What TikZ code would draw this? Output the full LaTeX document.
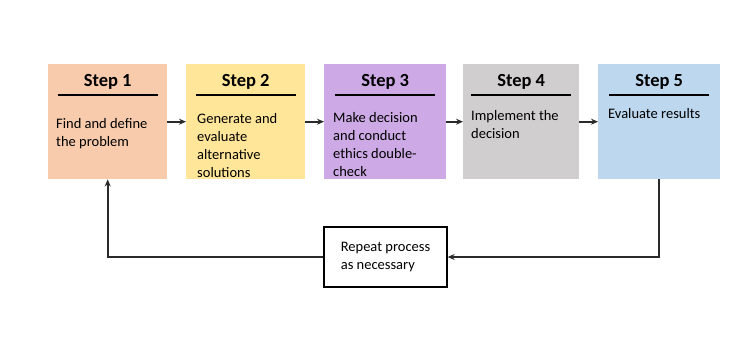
\documentclass[tikz,border=0pt]{standalone}
\usepackage{fontspec}
\setmainfont{Carlito}
\usetikzlibrary{arrows.meta}
\definecolor{peach}{HTML}{F8CBAD}
\definecolor{gold}{HTML}{FFE699}
\definecolor{lilac}{HTML}{CDAAE6}
\definecolor{stone}{HTML}{D0CECE}
\definecolor{sky}{HTML}{BDD7EE}
\definecolor{wire}{HTML}{2A2A2A}
\newcommand{\HeadFont}{\fontsize{18.5}{22}\selectfont\bfseries}
\newcommand{\BodyFont}{\fontsize{14.5}{18}\selectfont}

\begin{document}
\begin{tikzpicture}[x=1pt,y=-1pt,
    stepbox/.style={minimum height=115pt,inner sep=0pt,anchor=north west},
    link/.style={-{Stealth[length=7pt,width=6pt]},line width=1.7pt,wire}]
  \useasboundingbox (0,0) rectangle (752,346);
  % the five steps
  \foreach \n/\x/\w/\c/\tx/\ty/\txt in {
      1/48/119/peach/56/118/{Find and define\\the problem},
      2/186/119/gold/197/113/{Generate and\\evaluate\\alternative\\solutions},
      3/324/122/lilac/333/112/{Make decision\\and conduct\\ethics double-\\check},
      4/463/116/stone/471/110/{Implement the\\decision},
      5/598/122/sky/608/108/{Evaluate results}}
  {
    \node[stepbox,fill=\c,minimum width=\w pt] (s\n) at (\x,64) {};
    \node[font=\HeadFont,inner sep=0pt] (h\n) at ([yshift=-18pt]s\n.north) {Step \n};
    \draw[line width=1.2pt] ([xshift=-50pt,yshift=-31pt]s\n.north) -- ([xshift=50pt,yshift=-31pt]s\n.north);
    \node[font=\BodyFont,align=left,anchor=north west,inner sep=0pt] (t\n) at (\tx,\ty) {\txt};
  }
  \foreach \a/\b in {1/2,2/3,3/4,4/5}
    \draw[link] (s\a.east) -- (s\b.west);
  % loop back
  \node[draw,line width=1.3pt,minimum width=123pt,minimum height=60pt,
        font=\BodyFont,align=left] (rep) at (385.5,257) {Repeat process\\as necessary};
  \draw[link] (s5.south) |- (rep.east);
  \draw[link] (rep.west) -| (s1.south);
\end{tikzpicture}
\end{document}
